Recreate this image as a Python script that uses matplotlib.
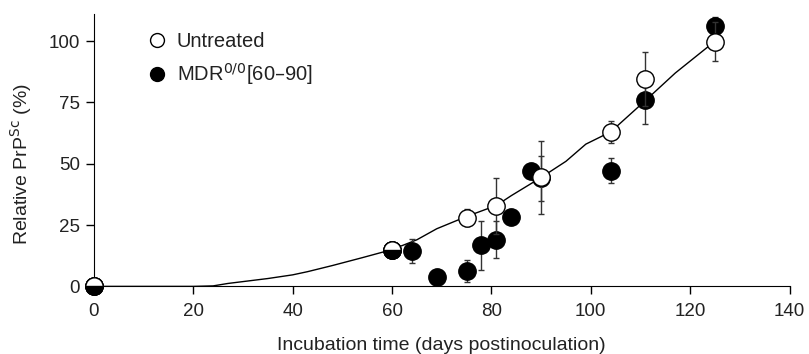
import numpy as np
import matplotlib
matplotlib.use('Agg')
import matplotlib.pyplot as plt
from matplotlib.lines import Line2D

plt.rcParams['font.family'] = ['Liberation Sans', 'DejaVu Sans']

# untreated (open circles)
unt_x = [0, 60, 75, 81, 90, 104, 111, 125]
unt_y = [0, 15, 28, 32.8, 44.4, 62.8, 84.7, 99.8]
unt_err = [0, 0, 3.5, 11.5, 15, 4.5, 11, 8]

# MDR0/0[60-90] (filled circles)
mdr_x = [0, 60, 64, 69, 75, 78, 81, 84, 88, 90, 104, 111, 125]
mdr_y = [0, 15, 14.4, 3.8, 6.2, 16.7, 19.1, 28.2, 46.9, 44, 47.2, 76.2, 106]
mdr_err = [0, 0, 5, 0, 4.5, 10, 7.5, 0, 0, 9, 5, 10, 4]

# fitted curve
fit_x = [0, 20, 24, 27, 31, 35, 40, 43, 48, 54, 60, 65, 69, 75, 81, 84, 90, 95, 99, 104, 111, 117, 125]
fit_y = [0, 0, 0.2, 1.2, 2.2, 3.2, 4.7, 6.0, 8.5, 11.7, 15, 19, 23.5, 28.5, 33, 37, 44.4, 51, 58, 63, 75.8, 87, 100]

txt = '#222222'
fig = plt.figure(figsize=(8.09, 3.54), dpi=100)
ax = fig.add_axes([0.116, 0.191, 0.86, 0.769])

ax.plot(fit_x, fit_y, color='black', lw=1.0, zorder=1)

ms = 12.5
ax.errorbar(mdr_x, mdr_y, yerr=mdr_err, fmt='o', color='black', ms=ms,
            mfc='black', mec='black', ecolor='#333333', elinewidth=1,
            capsize=2, capthick=1, zorder=2, clip_on=False)
ax.errorbar(unt_x, unt_y, yerr=unt_err, fmt='o', color='black', ms=ms,
            mfc='white', mec='black', mew=1, ecolor='#333333', elinewidth=1,
            capsize=2, capthick=1, zorder=3, clip_on=False)

# points where both series coincide: half filled
for x, y in zip(mdr_x, mdr_y):
    if x in unt_x and unt_y[unt_x.index(x)] == y:
        ax.plot(x, y, 'o', ms=ms, fillstyle='bottom', mfc='black',
                mfcalt='white', mec='black', mew=1, zorder=4, clip_on=False)

ax.set_xlim(0, 140)
ax.set_ylim(0, 111)
ax.set_xticks([0, 20, 40, 60, 80, 100, 120, 140])
ax.set_yticks([0, 25, 50, 75, 100])
ax.spines['top'].set_visible(False)
ax.spines['right'].set_visible(False)
ax.tick_params(direction='out', length=6, width=1, labelsize=13.5,
               labelcolor=txt, pad=4)
ax.tick_params(axis='x', pad=6)
ax.set_xlabel('Incubation time (days postinoculation)', fontsize=14, color=txt)
ax.xaxis.set_label_coords(0.5, -0.185)
ax.set_ylabel('Relative PrP$^{\\mathrm{Sc}}$ (%)', fontsize=14, color=txt)
ax.yaxis.set_label_coords(-0.086, 0.45)

handles = [
    Line2D([], [], marker='o', ls='none', ms=10, mfc='white', mec='black', mew=1),
    Line2D([], [], marker='o', ls='none', ms=10, mfc='black', mec='black'),
]
labels = ['Untreated', 'MDR$^{0/0}$[60\u201390]']
leg = ax.legend(handles, labels, loc='upper left', bbox_to_anchor=(0.05, 1.0),
                frameon=False, fontsize=14.5, handlelength=1.0, handletextpad=0.5,
                labelspacing=0.5)
for t in leg.get_texts():
    t.set_color(txt)

fig.savefig('out.png', dpi=100)
